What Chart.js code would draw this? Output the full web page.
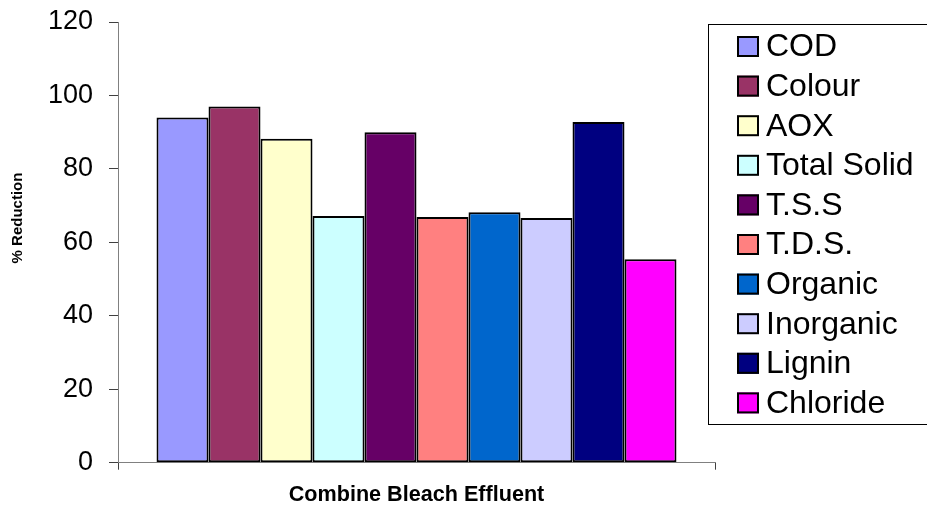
<!DOCTYPE html>
<html>
<head>
<meta charset="utf-8">
<script src="https://cdn.jsdelivr.net/npm/chart.js@4.4.1/dist/chart.umd.min.js"></script>
<style>
  html, body { margin: 0; padding: 0; background: #fff; }
  #wrap { width: 927px; height: 513px; position: relative; }
</style>
</head>
<body>
<div id="wrap"><canvas id="reductionChart" width="927" height="513"></canvas></div>
<script>
// Pourcentage de réduction par paramètre
const categories = ['Combine Bleach Effluent'];
const parameters = ['COD', 'Colour', 'AOX', 'Total Solid', 'T.S.S', 'T.D.S.', 'Organic', 'Inorganic', 'Lignin', 'Chloride'];
const reductions = [94.0, 97.0, 88.2, 67.2, 90.0, 66.9, 68.2, 66.6, 92.8, 55.4];
const yTicks = [0, 20, 40, 60, 80, 100, 120];

// Palette Excel classique
const barColors = ['#9999FF', '#993366', '#FFFFCC', '#CCFFFF', '#660066', '#FF8080', '#0066CC', '#CCCCFF', '#000080', '#FF00FF'];

const FONT = "'Liberation Sans', Arial, sans-serif";

// Légende dessinée dans un cadre à droite + titre vertical de l'axe Y
const boxedLegend = {
    id: 'boxedLegend',
    afterDraw(chart) {
        const ctx = chart.ctx;
        const left = 708.5, top = 24.5, rowH = 39.6, firstY = 46.5;
        ctx.save();
        ctx.strokeStyle = '#000';
        ctx.lineWidth = 1;
        ctx.strokeRect(left, top, 240, 400);
        ctx.font = `32px ${FONT}`;
        ctx.textBaseline = 'middle';
        ctx.textAlign = 'left';
        chart.data.datasets.forEach((ds, i) => {
            const y = firstY + i * rowH;
            ctx.fillStyle = ds.backgroundColor;
            ctx.fillRect(737, y - 10.5, 22, 21);
            ctx.strokeStyle = '#000';
            ctx.lineWidth = 2;
            ctx.strokeRect(738, y - 9.5, 20, 19);
            ctx.fillStyle = '#000';
            ctx.fillText(ds.label, 766, y + 1);
        });

        ctx.translate(18, 218);
        ctx.rotate(-Math.PI / 2);
        ctx.font = `bold 15px ${FONT}`;
        ctx.textAlign = 'center';
        ctx.fillText('% Reduction', 0, 0);
        ctx.restore();
    }
};

new Chart(document.getElementById('reductionChart'), {
    type: 'bar',
    data: {
        labels: categories,
        datasets: parameters.map((name, i) => ({
            label: name,
            data: [reductions[i]],
            backgroundColor: barColors[i],
            borderColor: '#000',
            borderWidth: 2,
            borderSkipped: false,
            barPercentage: 1,
            categoryPercentage: 0.871
        }))
    },
    options: {
        responsive: false,
        animation: false,
        layout: { padding: { top: 22, right: 212, bottom: 0, left: 0 } },
        plugins: {
            legend: { display: false },
            tooltip: { enabled: false }
        },
        scales: {
            x: {
                grid: { offset: true, drawOnChartArea: false, drawTicks: true, tickLength: 7, color: '#404040' },
                border: { color: '#808080', width: 1 },
                ticks: { display: false },
                title: {
                    display: true,
                    text: 'Combine Bleach Effluent',
                    color: '#000',
                    font: { family: FONT, size: 21.6, weight: 'bold' },
                    padding: { top: 0, bottom: 5 }
                },
                afterFit(scale) { scale.height = 50.3; }
            },
            y: {
                min: 0,
                max: 120,
                afterBuildTicks(scale) { scale.ticks = yTicks.map(v => ({ value: v })); },
                grid: { drawOnChartArea: false, drawTicks: true, tickLength: 9, color: '#404040' },
                border: { color: '#808080', width: 1 },
                ticks: {
                    color: '#000',
                    padding: 16,
                    font: { family: FONT, size: 27 }
                },
                afterFit(scale) {
                    scale.width = 118;
                    scale.paddingTop = 0;
                    scale.paddingBottom = 0;
                }
            }
        }
    },
    plugins: [boxedLegend]
});
</script>
</body>
</html>
